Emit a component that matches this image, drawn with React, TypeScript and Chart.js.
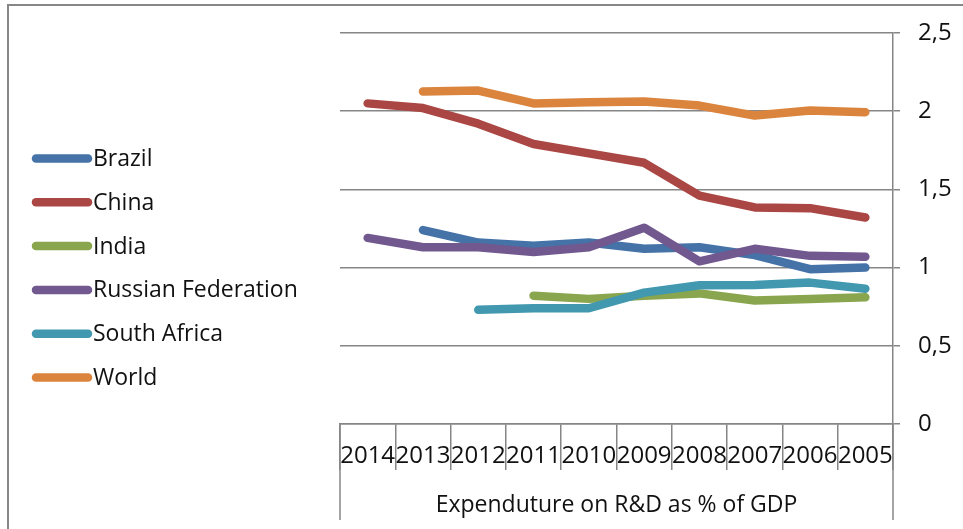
import React, { useEffect, useRef } from 'react';
import { Chart, registerables } from 'chart.js';

Chart.register(...registerables);

const years = ['2014', '2013', '2012', '2011', '2010', '2009', '2008', '2007', '2006', '2005'];
const seriesNames = ['Brazil', 'China', 'India', 'Russian Federation', 'South Africa', 'World'];
const seriesColors = ['#4572A7', '#AA4643', '#89A54E', '#71588F', '#4198AF', '#DB843D'];
const brazil = [null, 1.24, 1.16, 1.14, 1.16, 1.12, 1.13, 1.08, 0.99, 1.0];
const china = [2.05, 2.02, 1.92, 1.79, 1.73, 1.67, 1.46, 1.385, 1.38, 1.32];
const india = [null, null, null, 0.82, 0.8, 0.82, 0.835, 0.79, 0.8, 0.81];
const russia = [1.19, 1.13, 1.13, 1.1, 1.13, 1.255, 1.04, 1.12, 1.075, 1.07];
const southAfrica = [null, null, 0.73, 0.74, 0.74, 0.84, 0.887, 0.889, 0.904, 0.865];
const world = [null, 2.126, 2.132, 2.05, 2.058, 2.062, 2.036, 1.972, 2.004, 1.994];
const axisTitle = 'Expenduture on R&D as % of GDP';
const yMin = 0;
const yMax = 2.5;
const yStep = 0.5;

const FONT = '"Open Sans", "Liberation Sans", sans-serif';
const GRID = '#868686';

const decorPlugin = {
  id: 'decor',
  afterDraw(chart: any) {
    const ctx = chart.ctx;
    const area = chart.chartArea;
    ctx.save();
    // outer frame
    ctx.strokeStyle = '#878787';
    ctx.lineWidth = 2;
    ctx.beginPath();
    ctx.moveTo(8, 600);
    ctx.lineTo(8, 5);
    ctx.lineTo(1000, 5);
    ctx.stroke();
    // outer category lines extended
    ctx.strokeStyle = GRID;
    ctx.lineWidth = 1.5;
    ctx.beginPath();
    ctx.moveTo(area.left, area.bottom);
    ctx.lineTo(area.left, 520);
    ctx.moveTo(area.right, area.bottom);
    ctx.lineTo(area.right, 520);
    ctx.stroke();
    // legend
    const ds = chart.data.datasets;
    ctx.font = '23px ' + FONT;
    ctx.textBaseline = 'middle';
    ctx.textAlign = 'left';
    for (let i = 0; i < ds.length; i++) {
      const y = 158.5 + i * 43.8;
      ctx.strokeStyle = ds[i].borderColor;
      ctx.lineWidth = 8.5;
      ctx.lineCap = 'round';
      ctx.beginPath();
      ctx.moveTo(36, y);
      ctx.lineTo(88, y);
      ctx.stroke();
      ctx.fillStyle = '#111';
      ctx.fillText(ds[i].label, 93, y + 1);
    }
    ctx.restore();
  },
};

export default function App() {
  const ref = useRef<HTMLCanvasElement>(null);
  useEffect(() => {
    if (!ref.current) return;
    const all = [brazil, china, india, russia, southAfrica, world];
    const chart = new Chart(ref.current, {
      type: 'line',
      data: {
        labels: years,
        datasets: all.map((d, i) => ({
          label: seriesNames[i],
          data: d,
          borderColor: seriesColors[i],
          backgroundColor: seriesColors[i],
          borderWidth: 8.5,
          borderCapStyle: 'round',
          borderJoinStyle: 'round',
          pointRadius: 0,
          pointHoverRadius: 0,
          tension: 0,
          spanGaps: false,
          order: -i,
        })),
      },
      options: {
        animation: false,
        responsive: false,
        maintainAspectRatio: false,
        events: [],
        layout: { padding: { left: 340, top: 33, right: 0, bottom: 0 } },
        plugins: { legend: { display: false }, tooltip: { enabled: false } },
        scales: {
          x: {
            type: 'category',
            offset: true,
            grid: {
              display: true,
              drawOnChartArea: false,
              offset: true,
              tickLength: 46,
              color: GRID,
              lineWidth: 1.5,
            },
            border: { display: true, color: GRID, width: 1.5 },
            ticks: {
              color: '#111',
              font: { family: FONT, size: 24 },
              padding: -28,
              maxRotation: 0,
              minRotation: 0,
              autoSkip: false,
            },
            title: {
              display: true,
              text: axisTitle,
              color: '#111',
              font: { family: FONT, size: 23 },
              padding: { top: 0, bottom: 10 },
            },
            afterFit(scale: any) {
              scale.height = 105;
            },
          },
          y: {
            position: 'right',
            min: yMin,
            max: yMax,
            grid: { color: GRID, lineWidth: 1.5, tickLength: 7 },
            border: { display: true, color: GRID, width: 1.5 },
            ticks: {
              stepSize: yStep,
              color: '#111',
              padding: 18,
              font: { family: FONT, size: 24 },
              callback: (v: any) => String(v).replace('.', ','),
            },
            afterFit(scale: any) {
              scale.width = 70;
            },
          },
        },
      },
      plugins: [decorPlugin],
    } as any);
    return () => chart.destroy();
  }, []);
  return (
    <div style={{ position: 'fixed', left: 0, top: 0, width: 963, height: 529, background: '#fff' }}>
      <canvas ref={ref} width={963} height={529} style={{ display: 'block' }} />
    </div>
  );
}
